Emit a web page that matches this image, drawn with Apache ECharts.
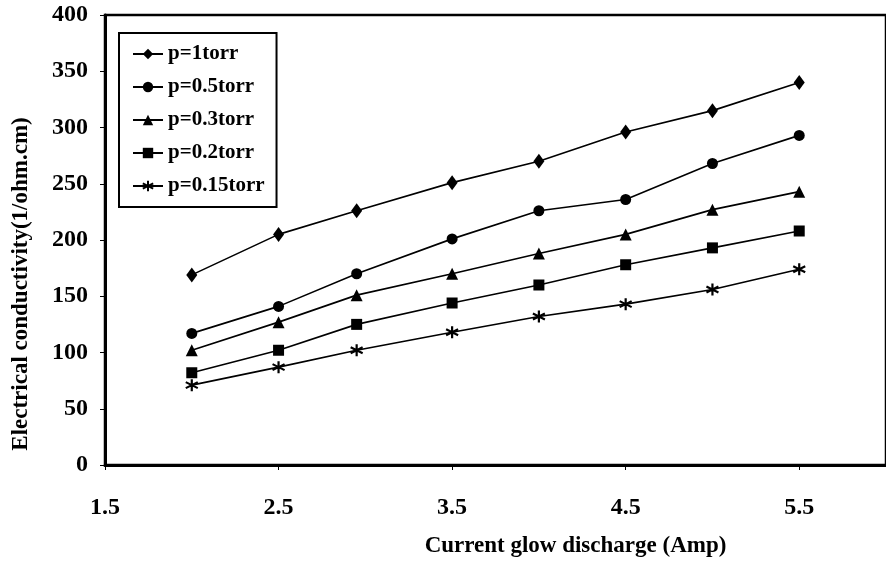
<!DOCTYPE html>
<html>
<head>
<meta charset="utf-8">
<script src="https://cdn.jsdelivr.net/npm/echarts@6/dist/echarts.min.js"></script>
<style>
  html, body { margin: 0; padding: 0; background: #fff; }
  #chart { width: 886px; height: 569px; }
</style>
</head>
<body>
<div id="chart"></div>
<script>
  // current values (Amp)
  var current = [2, 2.5, 2.95, 3.5, 4, 4.5, 5, 5.5];
  // conductivity (1/ohm.cm) per pressure
  var p1 = [169, 205, 226, 251, 270, 296, 315, 340];
  var p05 = [117, 141, 170, 201, 226, 236, 268, 293];
  var p03 = [102, 127, 151, 170, 188, 205, 227, 243];
  var p02 = [82, 102, 125, 144, 160, 178, 193, 208];
  var p015 = [71, 87, 102, 118, 132, 143, 156, 174];
  var names = ['p=1torr', 'p=0.5torr', 'p=0.3torr', 'p=0.2torr', 'p=0.15torr'];

  var font = 'Liberation Serif';
  var star = 'path://M5,0 L5,10 M0.7,2.5 L9.3,7.5 M0.7,7.5 L9.3,2.5';

  function pairs(ys) {
    var out = [];
    for (var i = 0; i < current.length; i++) out.push([current[i], ys[i]]);
    return out;
  }

  function makeSeries(name, ys, symbol, size) {
    return {
      name: name,
      type: 'line',
      data: pairs(ys),
      symbol: symbol,
      symbolSize: size,
      showAllSymbol: true,
      animation: false,
      lineStyle: { color: '#000', width: 1.6 },
      itemStyle: { color: '#000', borderColor: '#000', borderWidth: symbol === star ? 2.2 : 0 }
    };
  }

  var chart = echarts.init(document.getElementById('chart'));
  chart.setOption({
    backgroundColor: '#fff',
    textStyle: { fontFamily: font },
    grid: {
      left: 105, right: -5, top: 15, bottom: 104,
      show: true, borderColor: '#000', borderWidth: 2.5
    },
    legend: {
      orient: 'vertical',
      left: 119, top: 33,
      padding: [9, 12, 9, 13],
      itemGap: 9,
      itemWidth: 30,
      itemHeight: 13,
      selectedMode: false,
      borderColor: '#000',
      borderWidth: 2,
      backgroundColor: '#fff',
      data: names,
      textStyle: { fontFamily: font, fontWeight: 'bold', fontSize: 21, color: '#000', lineHeight: 24 }
    },
    xAxis: {
      type: 'value',
      min: 1.5, max: 6, interval: 1,
      name: 'Current glow discharge (Amp)',
      nameLocation: 'middle',
      nameGap: 70,
      nameTextStyle: { fontFamily: font, fontWeight: 'bold', fontSize: 23, color: '#000', padding: [0, 0, 0, 160] },
      axisLine: { lineStyle: { color: '#000', width: 3 } },
      axisTick: { show: true, length: 5, lineStyle: { color: '#000', width: 1 } },
      axisLabel: { fontFamily: font, fontWeight: 'bold', fontSize: 24, color: '#000', margin: 31, showMaxLabel: false },
      splitLine: { show: false }
    },
    yAxis: {
      type: 'value',
      min: 0, max: 400, interval: 50,
      name: 'Electrical conductivity(1/ohm.cm)',
      nameLocation: 'middle',
      nameGap: 72,
      nameTextStyle: { fontFamily: font, fontWeight: 'bold', fontSize: 23, color: '#000', padding: [0, 88, 0, 0] },
      axisLine: { lineStyle: { color: '#000', width: 3 } },
      axisTick: { show: true, length: 5, lineStyle: { color: '#000', width: 1 } },
      axisLabel: { fontFamily: font, fontWeight: 'bold', fontSize: 24, color: '#000', margin: 17 },
      splitLine: { show: false }
    },
    series: [
      makeSeries(names[0], p1, 'diamond', [11, 15]),
      makeSeries(names[1], p05, 'circle', 11),
      makeSeries(names[2], p03, 'triangle', 12),
      makeSeries(names[3], p02, 'rect', 11),
      makeSeries(names[4], p015, star, 12)
    ]
  });
</script>
</body>
</html>
